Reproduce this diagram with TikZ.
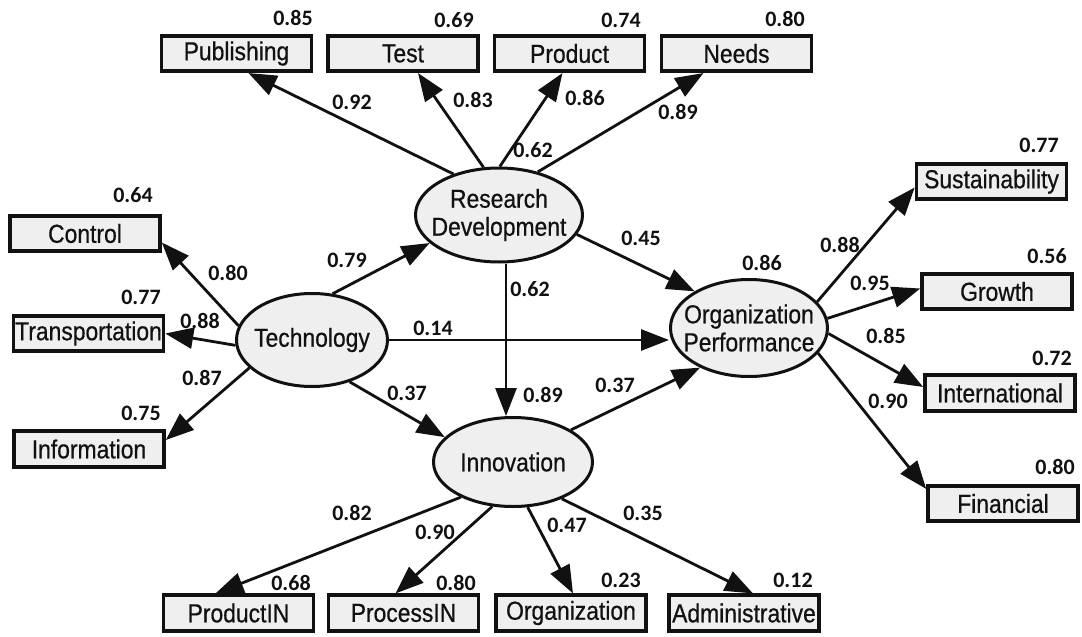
\documentclass[tikz,border=0pt]{standalone}
\usepackage{fontspec}
\usetikzlibrary{shapes.geometric,arrows.meta,calc}
\newfontfamily\boxfont[FakeStretch=0.88,FakeBold=0.6]{Liberation Sans}
\newfontfamily\numfont{Carlito}
\definecolor{nodefill}{HTML}{EFEFEF}
\definecolor{ink}{HTML}{111111}
\tikzset{
  obs/.style={draw=ink, line width=3.6pt, fill=nodefill, minimum width=150pt, minimum height=35.5pt, inner sep=0pt, font=\boxfont\fontsize{26}{28}\selectfont, text=ink},
  lat/.style={ellipse, draw=ink, line width=3pt, fill=nodefill, inner xsep=-40pt, inner ysep=-20pt, font=\boxfont\fontsize{26}{28}\selectfont, align=center, text=ink},
  arr/.style={draw=ink, line width=2.8pt, -{Triangle[length=28pt,width=21pt]}},
  val/.style={font=\numfont\bfseries\fontsize{22}{22}\selectfont, inner sep=0pt, text=ink},
}
\begin{document}
\begin{tikzpicture}[x=1pt,y=-1pt]
\fill[white] (0,0) rectangle (1082,637);
\useasboundingbox (0,0) rectangle (1082,637);
% observed indicators
\node[obs] (pub) at (236.5,53.5) {Publishing};
\node[obs] (test) at (403,53.5) {Test};
\node[obs] (prod) at (569.5,53.5) {Product};
\node[obs] (needs) at (736.5,53.5) {Needs};
\node[obs] (ctrl) at (85,233.5) {Control};
\node[obs] (trans) at (88.5,333.5) {Transportation};
\node[obs] (info) at (89,449) {Information};
\node[obs] (sus) at (991.5,181.5) {Sustainability};
\node[obs] (grow) at (997,291.5) {Growth};
\node[obs] (intl) at (1000,393) {International};
\node[obs] (fin) at (1003,503.5) {Financial};
\node[obs] (pin) at (238.5,613) {ProductIN};
\node[obs] (proc) at (403.5,613) {ProcessIN};
\node[obs] (org) at (571,613) {Organization};
\node[obs] (adm) at (744,613) {Administrative};
% latent variables
\node[lat, minimum width=167pt, minimum height=94pt] (rd) at (499,215) {Research\\Development};
\node[lat, minimum width=151pt, minimum height=93pt] (tech) at (312,340) {Technology};
\node[lat, minimum width=157pt, minimum height=97pt] (op) at (749,328) {Organization\\Performance};
\node[lat, minimum width=159pt, minimum height=89pt] (inn) at (513,462) {Innovation};
% connectors
\draw[arr] (rd.138) -- ($(pub.south)+(12,0)$);
\draw[arr] (rd.108) -- ($(test.south)+(15,0)$);
\draw[arr] (rd.89) -- ($(prod.south)+(-7,0)$);
\draw[arr] (rd.48) -- ($(needs.south)+(-33,0)$);
\draw[arr] (tech.169) -- ($(ctrl.east)+(0,9)$);
\draw[arr] (tech.184) -- (trans.east);
\draw[arr] (tech.204) -- ($(info.east)+(0,-9)$);
\draw[arr] (tech.66) -- (rd.202);
\draw[arr] (tech.east) -- (tech.east -| op.west);
\draw[arr] (tech.312) -- (inn.160);
\draw[arr] (rd.346) -- (op.146);
\draw[arr] ($(rd.south)+(7,0)$) -- ($(inn.north)+(-7,0)$);
\draw[arr] (inn.29) -- (op.219);
\draw[arr] (op.21) -- ($(sus.west)+(0,6)$);
\draw[arr] (op.7) -- ($(grow.west)+(0,-3)$);
\draw[arr] (op.-4) -- ($(intl.west)+(0,-6)$);
\draw[arr] (op.-20) -- ($(fin.north west)+(0,5)$);
\draw[arr] (inn.214) -- ($(pin.north)+(-23,0)$);
\draw[arr] (inn.245) -- ($(proc.north)+(-8,0)$);
\draw[arr] (inn.288) -- ($(org.north)+(2,0)$);
\draw[arr] (inn.323) -- ($(adm.north)+(9,0)$);
% values above indicators
\node[val] (vpub) at (293,18) {0.85};
\node[val] (vtest) at (454,20) {0.69};
\node[val] (vprod) at (621,20) {0.74};
\node[val] (vneeds) at (785,19) {0.80};
\node[val] (vctrl) at (133,195) {0.64};
\node[val] (vtrans) at (141,297) {0.77};
\node[val] (vinfo) at (141,413) {0.75};
\node[val] (vsus) at (1039,145) {0.77};
\node[val] (vgrow) at (1047,256) {0.56};
\node[val] (vintl) at (1052,358) {0.72};
\node[val] (vfin) at (1055,467) {0.80};
\node[val] (vpin) at (291,583) {0.68};
\node[val] (vproc) at (456,583) {0.80};
\node[val] (vorg) at (621,580) {0.23};
\node[val] (vadm) at (793,580) {0.12};
% R squared
\node[val] (rrd) at (533,150) {0.62};
\node[val] (rop) at (762,263) {0.86};
\node[val] (rinn) at (543,395) {0.89};
% path coefficients
\node[val] (epub) at (352,102) {0.92};
\node[val] (etest) at (473,100) {0.83};
\node[val] (eprod) at (585,98) {0.86};
\node[val] (eneeds) at (678,112) {0.89};
\node[val] (ectrl) at (228,273) {0.80};
\node[val] (etrans) at (200,321) {0.88};
\node[val] (einfo) at (202,378) {0.87};
\node[val] (etechrd) at (347,260) {0.79};
\node[val] (etechop) at (433,328) {0.14};
\node[val] (etechinn) at (407,393) {0.37};
\node[val] (erdop) at (641,238) {0.45};
\node[val] (erdinn) at (530,289) {0.62};
\node[val] (einnop) at (615,385) {0.37};
\node[val] (esus) at (840,245) {0.88};
\node[val] (egrow) at (870,283) {0.95};
\node[val] (eintl) at (886,336) {0.85};
\node[val] (efin) at (888,401) {0.90};
\node[val] (epin) at (352,513) {0.82};
\node[val] (eproc) at (435,532) {0.90};
\node[val] (eorg) at (567,525) {0.47};
\node[val] (eadm) at (643,513) {0.35};
\end{tikzpicture}
\end{document}
